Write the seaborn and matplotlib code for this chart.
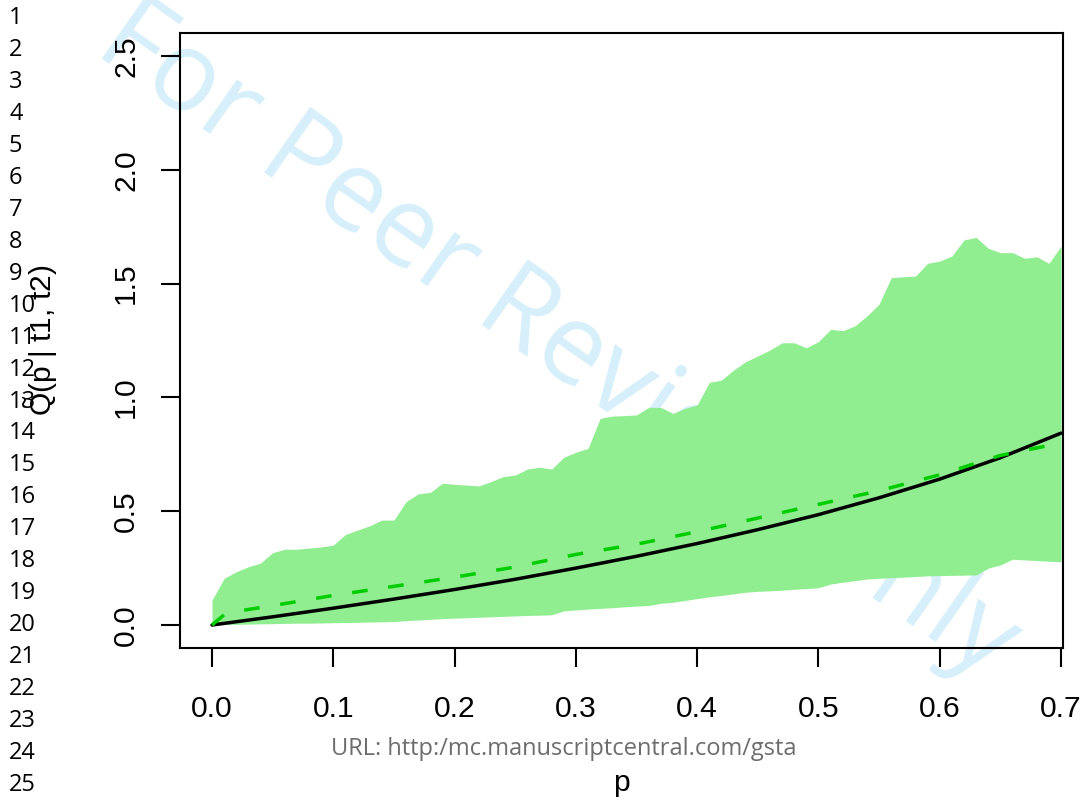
import numpy as np
import pandas as pd
import matplotlib
matplotlib.use("Agg")
import matplotlib.pyplot as plt
import seaborn as sns

# Simulation envelope of the quantile estimate, on a grid of p in steps of 0.01
p_band = np.round(np.arange(71) * 0.01, 2)
band_upper = [0.110, 0.205, 0.234, 0.256, 0.272, 0.318, 0.333, 0.333, 0.338, 0.343,
              0.351, 0.398, 0.417, 0.436, 0.461, 0.461, 0.542, 0.576, 0.583, 0.623,
              0.618, 0.615, 0.611, 0.630, 0.652, 0.659, 0.685, 0.693, 0.685, 0.737,
              0.759, 0.776, 0.908, 0.918, 0.920, 0.923, 0.956, 0.956, 0.930, 0.952,
              0.967, 1.066, 1.076, 1.120, 1.157, 1.182, 1.208, 1.240, 1.240, 1.218,
              1.245, 1.299, 1.293, 1.314, 1.358, 1.410, 1.526, 1.530, 1.533, 1.589,
              1.599, 1.621, 1.692, 1.703, 1.655, 1.636, 1.636, 1.611, 1.618, 1.589,
              1.665]
band_lower = [0.000, 0.002, 0.003, 0.004, 0.005, 0.006, 0.007, 0.008, 0.008, 0.009,
              0.010, 0.011, 0.012, 0.013, 0.014, 0.015, 0.019, 0.022, 0.025, 0.028,
              0.030, 0.032, 0.034, 0.036, 0.038, 0.040, 0.042, 0.043, 0.045, 0.062,
              0.066, 0.070, 0.073, 0.076, 0.080, 0.083, 0.086, 0.095, 0.100, 0.108,
              0.116, 0.124, 0.130, 0.137, 0.144, 0.148, 0.150, 0.153, 0.157, 0.160,
              0.164, 0.180, 0.188, 0.195, 0.202, 0.205, 0.208, 0.210, 0.213, 0.216,
              0.217, 0.218, 0.219, 0.220, 0.250, 0.264, 0.289, 0.286, 0.283, 0.280,
              0.278]

# True quantile curve
p_true = [0.00, 0.05, 0.10, 0.15, 0.20, 0.25, 0.30, 0.35, 0.40, 0.45, 0.50,
          0.55, 0.60, 0.65, 0.70]
q_true = [0.000, 0.036, 0.074, 0.114, 0.156, 0.201, 0.250, 0.302, 0.358, 0.419,
          0.485, 0.559, 0.641, 0.735, 0.843]

# Mean of the estimated quantiles
p_est = [0.00, 0.01, 0.02, 0.05, 0.10, 0.15, 0.20, 0.25, 0.30, 0.35, 0.40,
         0.45, 0.50, 0.55, 0.60, 0.65, 0.70]
q_est = [0.000, 0.045, 0.060, 0.085, 0.130, 0.170, 0.210, 0.255, 0.310, 0.355,
         0.410, 0.470, 0.530, 0.590, 0.660, 0.745, 0.800]

x_ticks = [0.0, 0.1, 0.2, 0.3, 0.4, 0.5, 0.6, 0.7]
y_ticks = [0.0, 0.5, 1.0, 1.5, 2.0, 2.5]
line_numbers = list(range(1, 26))

sns.set_theme(style="white")
plt.rcParams["font.family"] = ["Liberation Sans", "DejaVu Sans"]
plt.rcParams["mathtext.fontset"] = "custom"
plt.rcParams["mathtext.rm"] = "Liberation Sans"
plt.rcParams["mathtext.it"] = "Liberation Sans:italic"

W, H = 1084, 801
fig = plt.figure(figsize=(W / 100, H / 100), dpi=100)
fig.patch.set_facecolor("white")
ax = fig.add_axes([180 / W, 153 / H, 883 / W, 615 / H])
ax.set_facecolor("none")

# Watermark behind the plot
fig.text(557 / W, 1 - 342 / H, "For Peer Review Only", rotation=-35,
         rotation_mode="anchor", ha="center", va="center",
         fontsize=80, color="#d6effb", family=["Open Sans", "DejaVu Sans"],
         zorder=-5)

ax.fill_between(p_band, band_lower, band_upper, color="#90EE90", lw=0, zorder=1)

df_true = pd.DataFrame({"p": p_true, "q": q_true})
df_est = pd.DataFrame({"p": p_est, "q": q_est})
sns.lineplot(data=df_true, x="p", y="q", ax=ax, color="black", lw=2.5, zorder=3)
sns.lineplot(data=df_est, x="p", y="q", ax=ax, color="#00CD00", lw=2.5,
             linestyle=(0, (4.5, 6.0)), zorder=3)

ax.set_xlim(-0.0264, 0.7016)
ax.set_ylim(-0.101, 2.601)
ax.set_xticks(x_ticks)
ax.set_xticklabels([f"{v:.1f}" for v in x_ticks])
ax.set_yticks(y_ticks)
ax.set_yticklabels([f"{v:.1f}" for v in y_ticks], rotation=90, va="center")

for s in ax.spines.values():
    s.set_visible(True)
    s.set_color("black")
    s.set_linewidth(1.5)

ax.tick_params(axis="both", direction="out", length=13.7, width=1.5,
               color="black", labelsize=21.6, labelcolor="black",
               bottom=True, left=True)
ax.tick_params(axis="x", pad=20)
ax.tick_params(axis="y", pad=15)

ax.set_xlabel("p", fontsize=21.6, color="black")
ax.xaxis.label.set_verticalalignment("baseline")
ax.xaxis.set_label_coords(0.5, -(791 - 648) / 615)
ax.set_ylabel(r"$\tilde{\mathrm{Q}}$(p | t1, t2)", fontsize=21.6, color="black")
ax.yaxis.label.set_verticalalignment("center")
ax.yaxis.set_label_coords((41 - 180) / 883, 0.5)

# Manuscript line numbers and footer
for i in line_numbers:
    fig.text(9 / W, 1 - (18 + 31.96 * (i - 1)) / H, str(i), ha="left",
             va="center", fontsize=17, color="black",
             family=["Open Sans", "DejaVu Sans"])
fig.text(564 / W, 1 - 755 / H, "URL: http:/mc.manuscriptcentral.com/gsta",
         ha="center", va="baseline", fontsize=17, color="#6d6d6d",
         family=["Open Sans", "DejaVu Sans"])

fig.savefig("out.png", dpi=100)
